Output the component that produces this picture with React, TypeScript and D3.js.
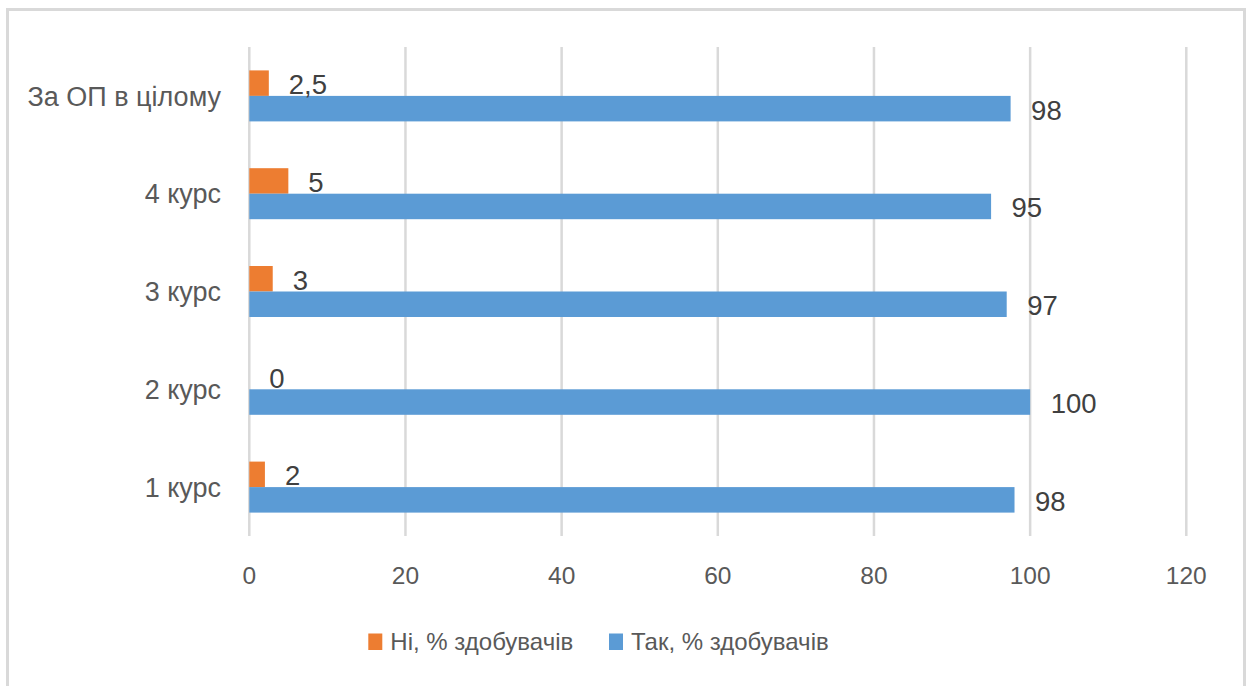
import React from "react";
import * as d3 from "d3";

const categories = ["За ОП в цілому", "4 курс", "3 курс", "2 курс", "1 курс"];
const niValues = [2.5, 5, 3, 0, 2];
const niLabels = ["2,5", "5", "3", "0", "2"];
const takValues = [97.5, 95, 97, 100, 98];
const takLabels = ["98", "95", "97", "100", "98"];
const xTicks = [0, 20, 40, 60, 80, 100, 120];
const seriesNames = ["Ні, % здобувачів", "Так, % здобувачів"];
const colors = ["#ED7D31", "#5B9BD5"];

const W = 1248;
const H = 686;
const FONT = "'Liberation Sans', Arial, sans-serif";

export default function App() {
  const x = d3.scaleLinear().domain([0, 120]).range([249.3, 1186.3]);
  const y = d3.scaleBand<string>().domain(categories).range([47, 536]).paddingInner(0).paddingOuter(0);
  const bw = y.bandwidth();
  const barH = 25.5;
  const inner = d3.scaleBand<number>().domain([0, 1]).range([(bw - 2 * barH) / 2, (bw + 2 * barH) / 2]);

  return (
    <svg width={W} height={H} style={{ position: "absolute", left: 0, top: 0, background: "#fff" }} fontFamily={FONT}>
      <rect x={0} y={0} width={W} height={H} fill="#fff" />
      <rect x={7.5} y={9.5} width={1237} height={692} fill="none" stroke="#D9D9D9" strokeWidth={3} />
      {xTicks.map((t) => (
        <g key={t}>
          <line x1={x(t)} x2={x(t)} y1={47} y2={536} stroke="#D9D9D9" strokeWidth={2.5} />
          <text x={x(t)} y={583.5} textAnchor="middle" fontSize={24.5} fill="#595959">{t}</text>
        </g>
      ))}
      {categories.map((c, i) => {
        const y0 = y(c)!;
        const yNi = y0 + inner(0)!;
        const yTak = y0 + inner(1)!;
        return (
          <g key={c}>
            <text x={221} y={y0 + bw / 2} dy="0.36em" textAnchor="end" fontSize={27} fill="#595959">{c}</text>
            <rect x={x(0)} y={yNi} width={x(niValues[i]) - x(0)} height={barH} fill={colors[0]} />
            <rect x={x(0)} y={yTak} width={x(takValues[i]) - x(0)} height={barH} fill={colors[1]} />
            <text x={x(niValues[i]) + 20} y={yNi + barH / 2} dy="0.4em" fontSize={27.5} fill="#404040">{niLabels[i]}</text>
            <text x={x(takValues[i]) + 20.5} y={yTak + barH / 2} dy="0.4em" fontSize={27.5} fill="#404040">{takLabels[i]}</text>
          </g>
        );
      })}
      {seriesNames.map((s, i) => {
        const lx = [368.3, 609][i];
        return (
          <g key={s}>
            <rect x={lx} y={633.5} width={14} height={16.5} fill={colors[i]} />
            <text x={lx + 22} y={649.5} fontSize={24} fill="#595959">{s}</text>
          </g>
        );
      })}
    </svg>
  );
}
